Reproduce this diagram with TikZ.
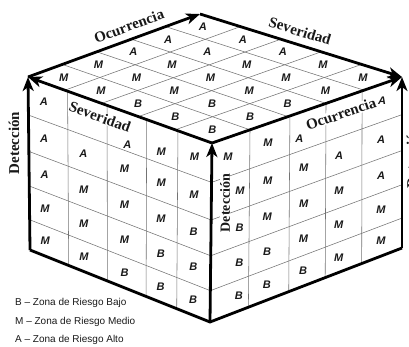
\documentclass[tikz,border=0pt]{standalone}
\usepackage{fontspec}
\setmainfont{Liberation Serif}
\setsansfont{Liberation Sans}
\usetikzlibrary{arrows.meta,calc}
\definecolor{cubeInk}{RGB}{0,0,0}
\definecolor{cubeGrid}{RGB}{115,115,115}
\definecolor{cubeText}{RGB}{25,25,25}
\tikzset{
  cubeedge/.style={draw=cubeInk,line width=2.8pt,line join=miter},
  cubeaxis/.style={cubeedge,-{Stealth[length=14pt,width=11pt,inset=4pt]}},
  cubegrid/.style={draw=cubeGrid,line width=0.55pt},
  cellmark/.style={font=\sffamily\bfseries\itshape\fontsize{11}{12}\selectfont,text=cubeText,inner sep=0pt},
  axislabel/.style={font=\bfseries\fontsize{15}{16}\selectfont,text=cubeText,fill=white,inner sep=0.3pt},
  legendtext/.style={font=\sffamily\fontsize{10}{12}\selectfont,text=cubeText,anchor=west,inner sep=0pt},
}

\begin{document}
\begin{tikzpicture}[x=1pt,y=-1pt]
\useasboundingbox (0,0) rectangle (409,346);
% Cube corners (pixel grid, y pointing down).
\coordinate (topB) at (200,14);
\coordinate (topL) at (28,77);
\coordinate (topR) at (402,77);
\coordinate (topF) at (212,143);
\coordinate (botL) at (30,250);
\coordinate (botF) at (210,322);
\coordinate (botR) at (402,248);

% Top face grid.
\foreach \k in {0.2,0.4,0.6,0.8}{
  \draw[cubegrid] ($(topB)!\k!(topL)$) -- ($(topR)!\k!(topF)$);
  \draw[cubegrid] ($(topB)!\k!(topR)$) -- ($(topL)!\k!(topF)$);
}
% Side face grids, cells get smaller towards the front.
\foreach \k in {0.215,0.43,0.645,0.815}{
  \draw[cubegrid] ($(topL)!\k!(topF)$) -- ($(botL)!\k!(botF)$);
}
\foreach \k in {0.2,0.41,0.6,0.79}{
  \draw[cubegrid] ($(topF)!\k!(topR)$) -- ($(botF)!\k!(botR)$);
}
\foreach \k in {0.22,0.43,0.63,0.825}{
  \draw[cubegrid] ($(topL)!\k!(botL)$) -- ($(topF)!\k!(botF)$);
  \draw[cubegrid] ($(topF)!\k!(botF)$) -- ($(topR)!\k!(botR)$);
}

% Axis names.
\node[axislabel,rotate=20] (occTop) at (129,26) {Ocurrencia};
\node[axislabel,rotate=-17] (sevTop) at (300,31) {Severidad};
\node[axislabel,rotate=-20] (sevLeft) at (100,117) {Severidad};
\node[axislabel,rotate=19] (occRight) at (341,114) {Ocurrencia};
\node[axislabel,rotate=90] (detLeft) at (14,143) {Detección};
\node[axislabel,rotate=90,font=\bfseries\fontsize{14}{15}\selectfont] (detRight) at (225,203) {Detección};
\node[axislabel,rotate=90,anchor=base] (detEdge) at (417,157) {Detección};

% Top face: i towards topL (Ocurrencia), j towards topR (Severidad).
\foreach \i/\j/\m in {0/0/A,1/0/A,0/1/A,2/0/A,1/1/A,0/2/A,
  3/0/M,2/1/M,1/2/M,0/3/M,4/0/M,3/1/M,2/2/M,1/3/M,0/4/M,
  4/1/M,3/2/M,2/3/M,1/4/M,4/2/B,3/3/B,2/4/B,4/3/B,3/4/B,4/4/B}{
  \pgfmathsetmacro{\u}{(\i+0.5)/5}
  \pgfmathsetmacro{\v}{(\j+0.5)/5}
  \node[cellmark] (top\i\j) at ($ ($(topB)!\u!(topL)$)!\v!($(topR)!\u!(topF)$) $) {\m};
}

% Left face: fractions along Severidad / down Deteccion.
\foreach \c/\r/\m [count=\n] in {
  0.085/0.110/A,0.085/0.325/A,0.085/0.530/A,0.085/0.728/M,0.085/0.913/M,
  0.300/0.325/A,0.300/0.530/M,0.300/0.728/M,0.300/0.913/M,
  0.540/0.180/A,0.525/0.325/M,0.525/0.530/M,0.525/0.728/M,0.525/0.913/B,
  0.725/0.150/M,0.725/0.325/M,0.725/0.530/M,0.725/0.728/B,0.725/0.913/B,
  0.905/0.110/M,0.905/0.325/M,0.905/0.530/B,0.905/0.728/B,0.905/0.913/B}{
  \node[cellmark] (lf\n) at ($ ($(topL)!\c!(topF)$)!\r!($(botL)!\c!(botF)$) $) {\m};
}

% Right face: fractions along Ocurrencia / down Deteccion.
\foreach \c/\r/\m [count=\n] in {
  0.085/0.110/M,0.150/0.325/M,0.150/0.530/B,0.150/0.728/B,0.150/0.913/B,
  0.295/0.110/M,0.295/0.325/M,0.295/0.530/M,0.295/0.728/B,0.295/0.913/B,
  0.460/0.150/A,0.485/0.325/M,0.485/0.530/M,0.485/0.728/M,0.485/0.913/B,
  0.670/0.325/A,0.670/0.530/M,0.670/0.728/M,0.670/0.913/M,
  0.895/0.100/A,0.890/0.325/A,0.890/0.530/A,0.890/0.728/M,0.890/0.913/M}{
  \node[cellmark] (rf\n) at ($ ($(topF)!\c!(topR)$)!\r!($(botF)!\c!(botR)$) $) {\m};
}

% Edges and axis arrows.
\draw[cubeedge] (botL) -- (botF) -- (botR);
\draw[cubeaxis] (topL) -- (topB);
\draw[cubeaxis] (topB) -- (topR);
\draw[cubeaxis] (topF) -- (topL);
\draw[cubeaxis] (topF) -- (topR);
\draw[cubeaxis] (botL) -- (topL);
\draw[cubeaxis] (botF) -- (topF);
\draw[cubeaxis] (botR) -- (topR);

% Legend.
\node[legendtext] (legB) at (15,303) {B – Zona de Riesgo Bajo};
\node[legendtext] (legM) at (15,322) {M – Zona de Riesgo Medio};
\node[legendtext] (legA) at (15,340) {A – Zona de Riesgo Alto};
\end{tikzpicture}
\end{document}
